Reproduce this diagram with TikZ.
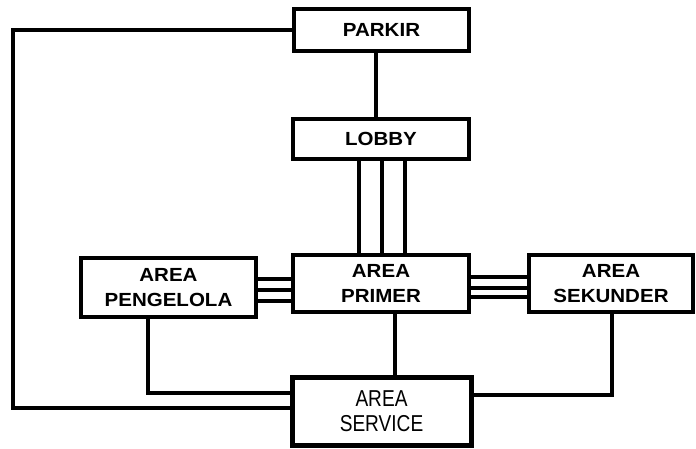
\documentclass[tikz,border=0pt]{standalone}
\usepackage{fontspec}
\newfontfamily\boxbold[FakeStretch=1.08]{Liberation Sans Bold}
\newfontfamily\boxnarrow[FakeStretch=0.83]{Liberation Sans}
\begin{document}
\begin{tikzpicture}[x=1pt,y=-1pt,
  box/.style={draw=black,line width=3.5pt,fill=white,align=center,inner sep=0pt,
    font=\boxbold\fontsize{19}{25}\selectfont},
  link/.style={line width=3.5pt,line cap=rect}]
\useasboundingbox (0,0) rectangle (696,449);
\node[box,minimum width=175pt,minimum height=42pt] (parkir) at (381.5,30) {PARKIR};
\node[box,minimum width=176pt,minimum height=40pt] (lobby) at (381,139) {LOBBY};
\node[box,minimum width=176pt,minimum height=57pt] (primer) at (381,283.5) {AREA\\PRIMER};
\node[box,minimum width=175pt,minimum height=59pt] (pengelola) at (168.5,287.5) {AREA\\PENGELOLA};
\node[box,minimum width=164pt,minimum height=57pt] (sekunder) at (611,283.5) {AREA\\SEKUNDER};
\node[box,line width=5pt,minimum width=179pt,minimum height=68pt,
  font=\boxnarrow\fontsize{23}{25}\selectfont] (service) at (381.5,411) {AREA\\SERVICE};
% parkir - lobby
\draw[link] ([xshift=-5.5pt]parkir.south) -- ([xshift=-5.5pt]parkir.south |- lobby.north);
% lobby - primer triple
\foreach \d in {-22,1,24}
  \draw[link] ([xshift=\d pt]lobby.south) -- ([xshift=\d pt]lobby.south |- primer.north);
% pengelola - primer triple
\foreach \d in {8.5,-2.5,-13.5}
  \draw[link] ([yshift=\d pt]pengelola.east) -- ([yshift=\d pt]pengelola.east -| primer.west);
% primer - sekunder triple
\foreach \d in {6.5,-4.5,-13.5}
  \draw[link] ([yshift=\d pt]primer.east) -- ([yshift=\d pt]primer.east -| sekunder.west);
% left loop
\coordinate (lc) at (13,408);
\draw[link,line cap=butt] (parkir.west) -| (lc) -- (lc -| service.west);
% pengelola - service
\draw[link,line cap=butt] ([xshift=-20.5pt]pengelola.south) |- ([yshift=18pt]service.west);
% primer - service
\draw[link,line cap=butt] ([xshift=14pt]primer.south) -- ([xshift=14pt]primer.south |- service.north);
% sekunder - service
\draw[link,line cap=butt] ([xshift=1pt]sekunder.south) |- ([yshift=16pt]service.east);
\end{tikzpicture}
\end{document}
